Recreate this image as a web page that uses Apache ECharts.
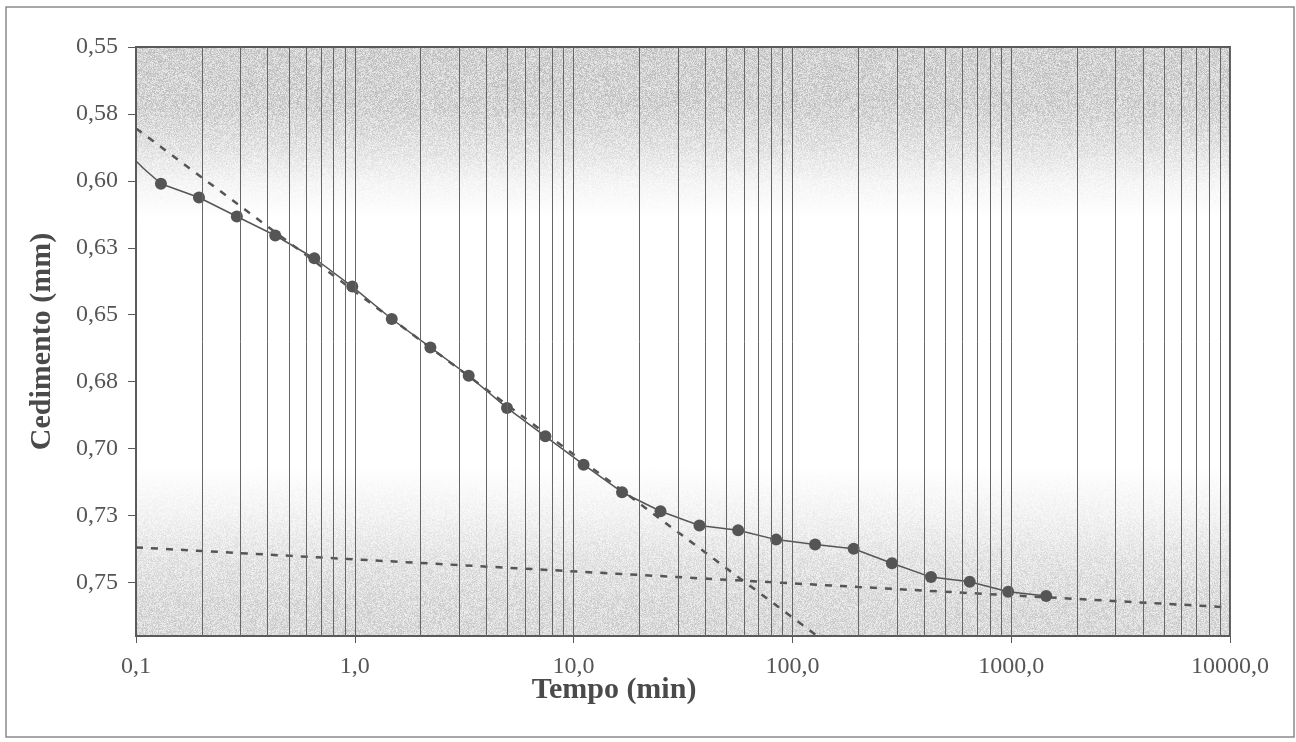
<!DOCTYPE html>
<html>
<head>
<meta charset="utf-8">
<script src="https://cdn.jsdelivr.net/npm/echarts@6/dist/echarts.min.js"></script>
<style>
html,body{margin:0;padding:0;background:#fff;}
#chart{width:1296px;height:742px;}
</style>
</head>
<body>
<div id="chart"></div>
<script>
// ---- data ----
const xTickValues = [0.1, 1, 10, 100, 1000, 10000];
const xTickLabels = ['0,1', '1,0', '10,0', '100,0', '1000,0', '10000,0'];
const yTickLabels = ['0,55', '0,58', '0,60', '0,63', '0,65', '0,68', '0,70', '0,73', '0,75'];

// measured consolidation curve (time in min, settlement in mm)
const curveTime = [0.130, 0.194, 0.289, 0.433, 0.653, 0.974, 1.475, 2.216, 3.315, 4.96, 7.43, 11.11,
  16.65, 24.96, 37.6, 56.5, 84.3, 127, 190.5, 285, 430, 646, 969, 1445];
const curveSettlement = [0.6011, 0.6062, 0.6133, 0.6204, 0.6289, 0.6395, 0.6516, 0.6622, 0.6728, 0.6848, 0.6954, 0.7060,
  0.7163, 0.7234, 0.7287, 0.7305, 0.7340, 0.7358, 0.7374, 0.7428, 0.7480, 0.7497, 0.7535, 0.7551];

// line lead-in before the first reading (no marker)
const leadInTime = [0.092, 0.108];
const leadInSettlement = [0.5896, 0.5953];

// construction (tangent) lines
const primaryTangentTime = [0.1, 130];
const primaryTangentSettlement = [0.5804, 0.77];
const secondaryTangentTime = [0.1, 10000];
const secondaryTangentSettlement = [0.7369, 0.7593];

// ---- build ----
const W = 1296, H = 742;
const GRID = { left: 136, right: 66, top: 47, bottom: 106 };

const gridValues = [];
for (let d = 0.1; d < 5000; d *= 10) {
  for (let m = 2; m <= 10; m++) gridValues.push(+(d * m).toPrecision(6));
}

const mainData = leadInTime.map((t, i) => ({ value: [t, leadInSettlement[i]], symbol: 'none' }))
  .concat(curveTime.map((t, i) => [t, curveSettlement[i]]));

// scanned-paper grain texture for the plot background (deterministic)
function makeTexture() {
  const c = document.createElement('canvas');
  c.width = W; c.height = H;
  const ctx = c.getContext('2d');
  ctx.fillStyle = '#fff';
  ctx.fillRect(0, 0, W, H);
  const x0 = GRID.left, y0 = GRID.top, pw = W - GRID.left - GRID.right, ph = H - GRID.top - GRID.bottom;
  const img = ctx.getImageData(x0, y0, pw, ph);
  const stops = [[0, 46], [0.10, 44], [0.17, 28], [0.23, 10], [0.29, 0], [0.71, 0], [0.79, 12], [0.87, 27], [0.95, 36], [1, 38]];
  function amp(f) {
    for (let i = 1; i < stops.length; i++) {
      if (f <= stops[i][0]) {
        const a = stops[i - 1], b = stops[i];
        return a[1] + (b[1] - a[1]) * (f - a[0]) / (b[0] - a[0]);
      }
    }
    return stops[stops.length - 1][1];
  }
  let s = 987654321;
  function rnd() { s = (Math.imul(s, 1664525) + 1013904223) >>> 0; return s / 4294967296; }
  for (let y = 0; y < ph; y++) {
    const a = amp(y / ph);
    for (let x = 0; x < pw; x++) {
      const r = rnd();
      let v = 255 - a * (0.45 + 1.1 * r);
      v = Math.max(120, Math.min(255, v));
      const k = (y * pw + x) * 4;
      img.data[k] = img.data[k + 1] = img.data[k + 2] = v;
      img.data[k + 3] = 255;
    }
  }
  ctx.putImageData(img, x0, y0);
  return c;
}

const FONT = 'Liberation Serif';
const TXT = '#555';
const chart = echarts.init(document.getElementById('chart'), null, { renderer: 'canvas' });

chart.setOption({
  animation: false,
  backgroundColor: '#fff',
  grid: {
    left: GRID.left, right: GRID.right, top: GRID.top, bottom: GRID.bottom,
    show: true,
    borderColor: '#5a5a5a',
    borderWidth: 2,
    backgroundColor: { image: makeTexture(), repeat: 'no-repeat' }
  },
  xAxis: {
    type: 'log',
    logBase: 10,
    min: 0.1,
    max: 10000,
    splitLine: { show: false },
    minorTick: { show: false },
    axisLine: { lineStyle: { color: '#5a5a5a', width: 2 } },
    axisTick: { show: true, inside: false, length: 7, lineStyle: { color: '#5a5a5a', width: 1 } },
    axisLabel: {
      color: TXT, fontFamily: FONT, fontSize: 24, margin: 19,
      formatter: function (v) {
        const i = Math.round(Math.log10(v) + 1);
        return xTickLabels[i] !== undefined ? xTickLabels[i] : '';
      }
    }
  },
  yAxis: {
    type: 'value',
    inverse: true,
    min: 0.55,
    max: 0.77,
    interval: 0.025,
    splitLine: { show: false },
    axisLine: { show: true, lineStyle: { color: '#5a5a5a', width: 2 } },
    axisTick: { show: true, inside: false, length: 8, lineStyle: { color: '#5a5a5a', width: 1 } },
    axisLabel: {
      color: TXT, fontFamily: FONT, fontSize: 24, margin: 18,
      showMaxLabel: false,
      formatter: function (v) {
        const i = Math.round((v - 0.55) / 0.025);
        return (Math.abs(v - (0.55 + i * 0.025)) < 1e-6 && yTickLabels[i] !== undefined) ? yTickLabels[i] : '';
      }
    },
    name: 'Cedimento (mm)',
    nameLocation: 'middle',
    nameGap: 79,
    nameRotate: 90,
    nameTextStyle: { color: '#4a4a4a', fontFamily: FONT, fontSize: 30, fontWeight: 'bold' }
  },
  graphic: [
    {
      type: 'rect', silent: true, z: 0,
      shape: { x: 6, y: 7, width: 1288, height: 730 },
      style: { fill: null, stroke: '#8a8a8a', lineWidth: 1.5 }
    },
    {
      type: 'text', silent: true, z: 10,
      x: 614, y: 690,
      style: {
        text: 'Tempo (min)', fill: '#4a4a4a',
        font: 'bold 30px "Liberation Serif"',
        textAlign: 'center', textVerticalAlign: 'middle'
      }
    }
  ],
  series: [
    {
      type: 'line',
      data: [],
      z: 1,
      silent: true,
      markLine: {
        silent: true,
        symbol: ['none', 'none'],
        label: { show: false },
        lineStyle: { color: '#666', width: 1, type: 'solid' },
        emphasis: { disabled: true },
        data: gridValues.map(v => ({ xAxis: v }))
      }
    },
    {
      type: 'line',
      z: 3,
      data: primaryTangentTime.map((t, i) => [t, primaryTangentSettlement[i]]),
      symbol: 'none',
      lineStyle: { color: '#555', width: 2.5, type: [7, 8] }
    },
    {
      type: 'line',
      z: 3,
      data: secondaryTangentTime.map((t, i) => [t, secondaryTangentSettlement[i]]),
      symbol: 'none',
      lineStyle: { color: '#555', width: 2.5, type: [7, 8] }
    },
    {
      type: 'line',
      z: 4,
      clip: false,
      data: mainData,
      symbol: 'circle',
      symbolSize: 12,
      itemStyle: { color: '#555' },
      lineStyle: { color: '#555', width: 1.5 }
    }
  ]
});
</script>
</body>
</html>
